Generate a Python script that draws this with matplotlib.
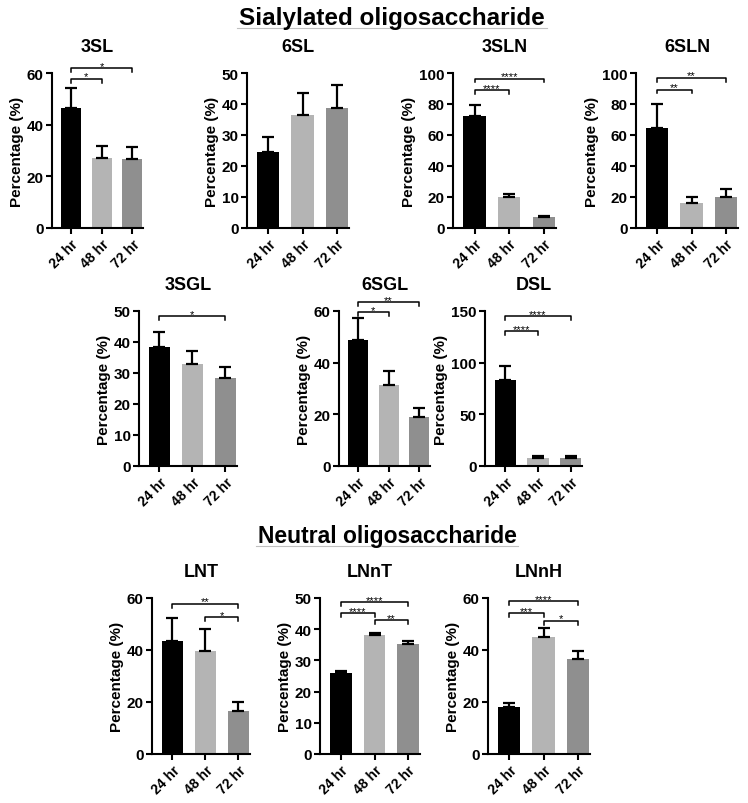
import matplotlib
matplotlib.use('Agg')
import matplotlib.pyplot as plt
from matplotlib.lines import Line2D

plt.rcParams['font.family'] = ['Liberation Sans', 'DejaVu Sans']
plt.rcParams['font.weight'] = 'bold'

W, H = 748, 804

groups = ['24 hr', '48 hr', '72 hr']
colors = ['#000000', '#b4b4b4', '#8f8f8f']

# means and upper error (SD)
means_3SL = [46.5, 27.0, 26.7]
err_3SL = [7.7, 4.6, 4.6]
means_6SL = [24.6, 36.3, 38.7]
err_6SL = [4.9, 7.1, 7.3]
means_3SLN = [72.4, 19.7, 6.9]
err_3SLN = [6.8, 2.1, 1.0]
means_6SLN = [64.7, 16.0, 19.9]
err_6SLN = [15.0, 4.3, 5.1]
means_3SGL = [38.5, 32.8, 28.4]
err_3SGL = [4.8, 4.3, 3.6]
means_6SGL = [48.8, 31.2, 19.1]
err_6SGL = [8.3, 5.4, 3.4]
means_DSL = [83.5, 7.8, 7.4]
err_DSL = [13.3, 1.9, 2.0]
means_LNT = [43.3, 39.8, 16.5]
err_LNT = [9.0, 8.1, 3.5]
means_LNnT = [25.9, 38.3, 35.4]
err_LNnT = [0.6, 0.6, 0.7]
means_LNnH = [18.0, 45.1, 36.4]
err_LNnH = [1.5, 3.3, 3.1]

# significance brackets: (from, to, height, label)
sig_3SL = [(0, 1, 57.8, '*'), (0, 2, 62.0, '*')]
sig_6SL = []
sig_3SLN = [(0, 1, 88.9, '****'), (0, 2, 96.4, '****')]
sig_6SLN = [(0, 1, 89.3, '**'), (0, 2, 97.0, '**')]
sig_3SGL = [(0, 2, 48.4, '*')]
sig_6SGL = [(0, 1, 59.5, '*'), (0, 2, 63.4, '**')]
sig_DSL = [(0, 1, 130.7, '****'), (0, 2, 144.7, '****')]
sig_LNT = [(0, 2, 57.8, '**'), (1, 2, 52.7, '*')]
sig_LNnT = [(0, 2, 48.6, '****'), (0, 1, 45.1, '****'), (1, 2, 42.9, '**')]
sig_LNnH = [(0, 2, 58.9, '****'), (0, 1, 54.3, '***'), (1, 2, 51.3, '*')]

# y axis ticks
yticks_3SL = [0, 20, 40, 60]
yticks_6SL = [0, 10, 20, 30, 40, 50]
yticks_3SLN = [0, 20, 40, 60, 80, 100]
yticks_6SLN = [0, 20, 40, 60, 80, 100]
yticks_3SGL = [0, 10, 20, 30, 40, 50]
yticks_6SGL = [0, 20, 40, 60]
yticks_DSL = [0, 50, 100, 150]
yticks_LNT = [0, 20, 40, 60]
yticks_LNnT = [0, 10, 20, 30, 40, 50]
yticks_LNnH = [0, 20, 40, 60]

# panel boxes in pixels: left, right, top, bottom
panels = [
    ('3SL', means_3SL, err_3SL, sig_3SL, yticks_3SL, (52, 143, 74, 229)),
    ('6SL', means_6SL, err_6SL, sig_6SL, yticks_6SL, (247, 349, 74, 229)),
    ('3SLN', means_3SLN, err_3SLN, sig_3SLN, yticks_3SLN, (453, 556, 74, 229)),
    ('6SLN', means_6SLN, err_6SLN, sig_6SLN, yticks_6SLN, (636, 738, 74, 229)),
    ('3SGL', means_3SGL, err_3SGL, sig_3SGL, yticks_3SGL, (139, 237, 312, 467)),
    ('6SGL', means_6SGL, err_6SGL, sig_6SGL, yticks_6SGL, (339, 430, 312, 467)),
    ('DSL', means_DSL, err_DSL, sig_DSL, yticks_DSL, (485, 582, 312, 467)),
    ('LNT', means_LNT, err_LNT, sig_LNT, yticks_LNT, (152, 250, 599, 755)),
    ('LNnT', means_LNnT, err_LNnT, sig_LNnT, yticks_LNnT, (320, 420, 599, 755)),
    ('LNnH', means_LNnH, err_LNnH, sig_LNnH, yticks_LNnH, (488, 590, 599, 755)),
]

fig = plt.figure(figsize=(W / 100, H / 100), dpi=100)

for name, m, e, sigs, yt, (l, r, t, b) in panels:
    ax = fig.add_axes([l / W, 1 - b / H, (r - l) / W, (b - t) / H])
    x = range(len(groups))
    ax.bar(x, m, width=0.65, color=colors, zorder=2)
    ax.errorbar(x, m, yerr=[[0] * len(e), e], fmt='none', ecolor='black',
                elinewidth=1.6, capsize=4.5, capthick=1.6, zorder=3)
    ymax = yt[-1]
    ax.set_ylim(0, ymax)
    ax.set_yticks(yt)
    ax.set_xlim(-0.62, 2.35)
    ax.set_xticks(list(x))
    ax.set_xticklabels(groups, rotation=45, ha='right', rotation_mode='anchor',
                       fontsize=10, fontweight='bold')
    for lab in ax.get_yticklabels():
        lab.set_fontsize(11)
        lab.set_fontweight('bold')
    ax.set_ylabel('Percentage (%)', fontsize=11, fontweight='bold', labelpad=2)
    ax.set_title(name, fontsize=13, fontweight='bold', pad=16)
    for s in ['top', 'right']:
        ax.spines[s].set_visible(False)
    for s in ['left', 'bottom']:
        ax.spines[s].set_linewidth(1.5)
    ax.tick_params(width=1.5, length=4, pad=2)

    tick = ymax * 0.025
    for i, j, y, lab in sigs:
        ax.plot([i, i, j, j], [y - tick, y, y, y - tick], color='black',
                lw=1.1, clip_on=False, zorder=4)
        ax.text((i + j) / 2, y - ymax * 0.018, lab, ha='center', va='bottom',
                fontsize=8, fontweight='normal', clip_on=False)

# section headings with faint underline
fig.text(392 / W, 1 - 19 / H, 'Sialylated oligosaccharide', ha='center',
         va='center', fontsize=17.5, fontweight='bold')
fig.add_artist(Line2D([237 / W, 547 / W], [1 - 29 / H, 1 - 29 / H],
                      color='#c0c0c0', lw=0.8))
fig.text(387 / W, 1 - 537 / H, 'Neutral oligosaccharide', ha='center',
         va='center', fontsize=16.5, fontweight='bold')
fig.add_artist(Line2D([256 / W, 518 / W], [1 - 547 / H, 1 - 547 / H],
                      color='#c0c0c0', lw=0.8))

fig.savefig('out.png', dpi=100, facecolor='white')
